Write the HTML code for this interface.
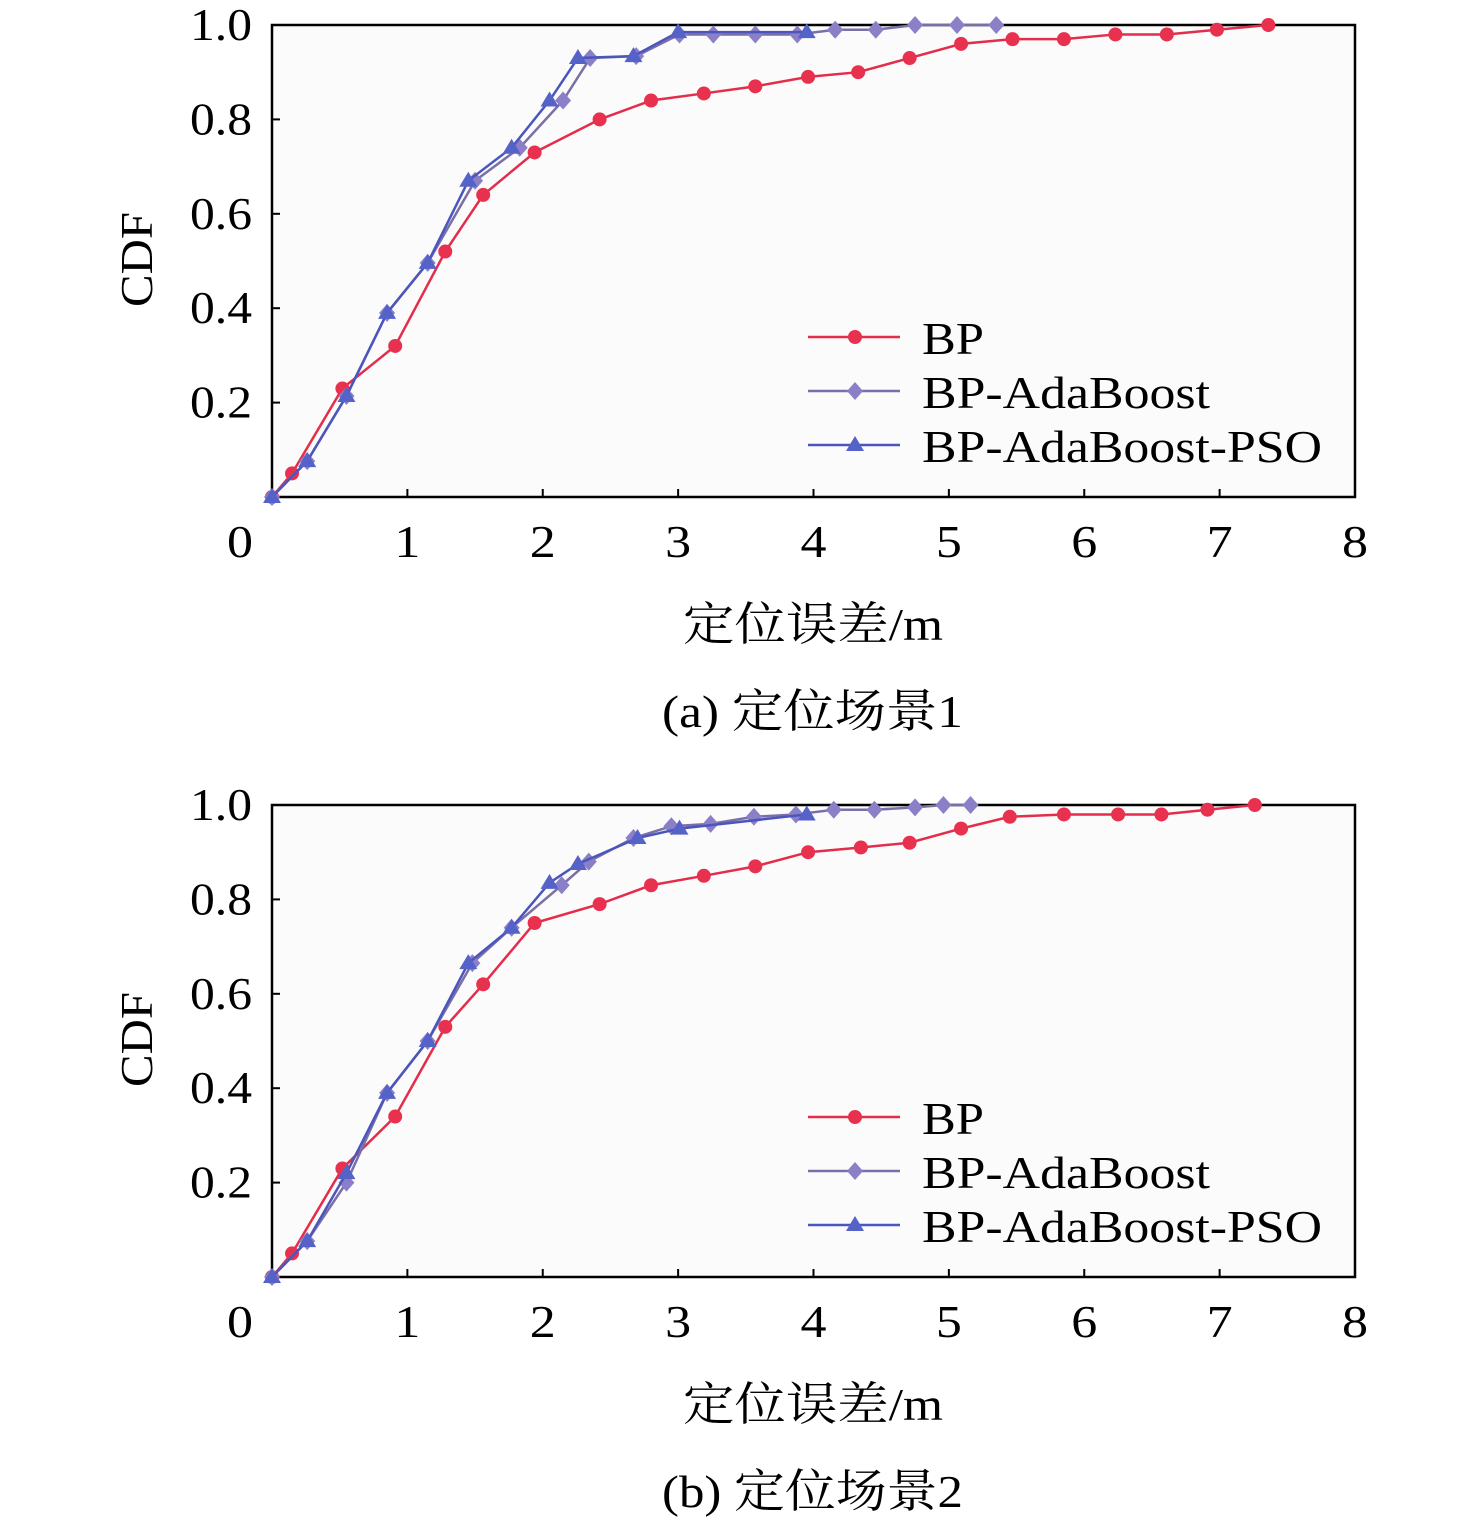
<!DOCTYPE html>
<html><head><meta charset="utf-8"><style>
body{margin:0;background:#fff;}
svg{display:block;font-family:"Liberation Serif","Noto Serif CJK SC",serif;}
</style></head><body>
<svg id="s" width="1476" height="1523" viewBox="0 0 1476 1523" xmlns="http://www.w3.org/2000/svg"></svg>
<script>
const xTicks=[0,1,2,3,4,5,6,7,8];
const yTicks=[0.2,0.4,0.6,0.8,1.0];
const seriesNames=["BP","BP-AdaBoost","BP-AdaBoost-PSO"];
const a_bp_x=[0,.148,.52,.91,1.28,1.56,1.94,2.42,2.80,3.19,3.57,3.96,4.33,4.71,5.09,5.47,5.85,6.23,6.61,6.98,7.36];
const a_bp_y=[0,.05,.23,.32,.52,.64,.73,.80,.84,.855,.87,.89,.90,.93,.96,.97,.97,.98,.98,.99,1.0];
const a_ada_x=[0,.26,.55,.85,1.15,1.50,1.83,2.15,2.35,2.69,3.01,3.26,3.57,3.88,4.16,4.46,4.75,5.06,5.35];
const a_ada_y=[0,.076,.214,.39,.496,.67,.74,.84,.93,.934,.98,.98,.98,.98,.99,.99,1,1,1];
const a_pso_x=[0,.26,.55,.85,1.15,1.45,1.77,2.05,2.26,2.67,3.0,3.95];
const a_pso_y=[0,.076,.214,.39,.496,.67,.74,.84,.93,.934,.985,.985];
const b_bp_x=[0,.148,.52,.91,1.28,1.56,1.94,2.42,2.80,3.19,3.57,3.96,4.35,4.71,5.09,5.45,5.85,6.25,6.57,6.91,7.26];
const b_bp_y=[0,.05,.23,.34,.53,.62,.75,.79,.83,.85,.87,.90,.91,.92,.95,.975,.98,.98,.98,.99,1.0];
const b_ada_x=[0,.26,.55,.85,1.15,1.48,1.77,2.14,2.34,2.67,2.95,3.24,3.56,3.87,4.15,4.45,4.75,4.96,5.16];
const b_ada_y=[0,.076,.2,.39,.50,.665,.74,.83,.88,.93,.955,.96,.975,.98,.99,.99,.995,1,1];
const b_pso_x=[0,.26,.55,.85,1.15,1.45,1.77,2.05,2.26,2.70,3.01,3.95];
const b_pso_y=[0,.076,.22,.39,.50,.665,.74,.835,.875,.93,.95,.98];

const NS="http://www.w3.org/2000/svg",svg=document.getElementById('s');
function el(t,a,p){const e=document.createElementNS(NS,t);for(const k in a)e.setAttribute(k,a[k]);(p||svg).appendChild(e);return e;}
const colors={bp:"#e32d4b",ada:"#7a6fa6",pso:"#4a56bd"};
const mfill={bp:"#e8314f",ada:"#8b80c8",pso:"#5562c8"};
function txt(par,s,a,len){const t=el('text',Object.assign({'font-size':46,textLength:len,lengthAdjust:'spacingAndGlyphs'},a),par);t.textContent=s;return t;}

function chart(top,tag,caption,data){
  const L=272,R=1355,T=top,B=top+472;
  const xs=v=>L+(v/8)*(R-L), ys=v=>B-v*(B-T);
  const g=el('g',{});
  
  
  const f=el('rect',{x:L,y:T,width:R-L,height:B-T,fill:'#fbfbfb',stroke:'#000','stroke-width':2.5},g);
  
  xTicks.forEach(v=>{
    if(v>0&&v<8)el('line',{x1:xs(v),x2:xs(v),y1:B,y2:B-8,stroke:'#000','stroke-width':2},g);
    const cx=xs(v)-(v==0?32:0);
    const t=txt(g,String(v),{x:cx-13,y:B+60},26);
    
  });
  yTicks.forEach(v=>{
    if(v<1)el('line',{x1:L,x2:L+8,y1:ys(v),y2:ys(v),stroke:'#000','stroke-width':2},g);
    const t=txt(g,v.toFixed(1),{x:190,y:ys(v)+15},62);
    
  });
  const yl=txt(g,"CDF",{x:-47,y:0,transform:`translate(152,${(T+B)/2-1}) rotate(-90)`},95);
  
  const xl=txt(g,"定位误差/m",{x:683,y:B+143},260);
  
  const cp=txt(g,caption,{x:662,y:B+230},301);
  
  function marker(k,x,y,par){
    let m;
    if(k==='bp')m=el('circle',{cx:x,cy:y,r:7,fill:mfill[k]},par);
    else if(k==='ada')m=el('polygon',{points:`${x},${y-9} ${x+8},${y} ${x},${y+9} ${x-8},${y}`,fill:mfill[k]},par);
    else m=el('polygon',{points:`${x},${y-9} ${x+9},${y+6} ${x-9},${y+6}`,fill:mfill[k]},par);
    
  }
  ['bp','ada','pso'].forEach(k=>{
    const [X,Y]=data[k];
    const sg=el('g',{},g);
    
    const pts=X.map((v,i)=>xs(v)+','+ys(Y[i])).join(' ');
    el('polyline',{points:pts,fill:'none',stroke:colors[k],'stroke-width':2.5},sg);
    X.forEach((v,i)=>marker(k,xs(v),ys(Y[i]),sg));
  });
  const lens=[62,288,400];
  ['bp','ada','pso'].forEach((k,i)=>{
    const y=T+312+i*54;
    const lg=el('g',{},g);
    
    el('line',{x1:808,x2:900,y1:y,y2:y,stroke:colors[k],'stroke-width':2.5},lg);
    marker(k,855,y,lg);
    txt(lg,seriesNames[i],{x:922,y:y+17},lens[i]);
  });
}
chart(25,'a','(a) 定位场景1',{bp:[a_bp_x,a_bp_y],ada:[a_ada_x,a_ada_y],pso:[a_pso_x,a_pso_y]});
chart(805,'b','(b) 定位场景2',{bp:[b_bp_x,b_bp_y],ada:[b_ada_x,b_ada_y],pso:[b_pso_x,b_pso_y]});
</script>
</body></html>
